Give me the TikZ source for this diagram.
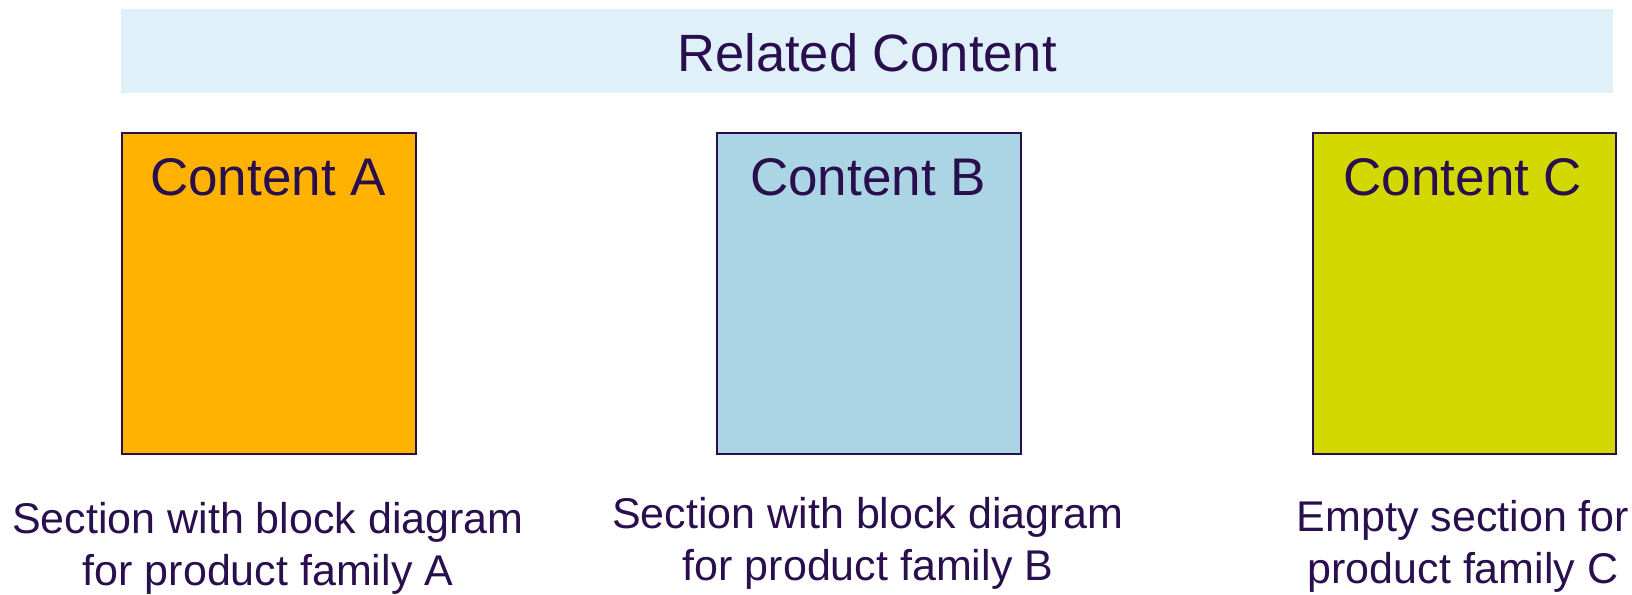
\documentclass[tikz,border=0pt]{standalone}
\usepackage{fontspec}
\setmainfont{Liberation Sans}
\definecolor{txt}{HTML}{2A0F4E}
\definecolor{banner}{HTML}{E0F0F8}
\definecolor{fa}{HTML}{FFB300}
\definecolor{fb}{HTML}{ABD5E5}
\definecolor{fc}{HTML}{D2D800}
\tikzset{
  contentbox/.style={draw=txt, line width=1.5pt, inner sep=0pt, anchor=north west},
  boxtitle/.style={text=txt, anchor=base, inner sep=0pt, font=\fontsize{53}{64}\selectfont},
  caption/.style={text=txt, align=center, anchor=base, inner sep=0pt, font=\fontsize{43}{52}\selectfont},
}
\begin{document}
\begin{tikzpicture}[x=1pt,y=-1pt]
\useasboundingbox (0,0) rectangle (1632,594);
\node[fill=banner, inner sep=0pt, minimum width=1492pt, minimum height=84pt, anchor=north west] (banner) at (121,9) {};
\node[text=txt, anchor=base, inner sep=0pt, font=\fontsize{52.5}{62}\selectfont] (title) at (867,71) {Related Content};
\node[contentbox, fill=fa, minimum width=294pt, minimum height=321pt] (boxA) at (121,132) {};
\node[contentbox, fill=fb, minimum width=304pt, minimum height=321pt] (boxB) at (716,132) {};
\node[contentbox, fill=fc, minimum width=303pt, minimum height=321pt] (boxC) at (1312,132) {};
\node[boxtitle] (tA) at (268,195) {Content A};
\node[boxtitle] (tB) at (868,195) {Content B};
\node[boxtitle] (tC) at (1463,195) {Content C};
\node[caption] (cA) at (268,585) {Section with block diagram\\for product family A};
\node[caption] (cB) at (868,580) {Section with block diagram\\for product family B};
\node[caption] (cC) at (1463,583) {Empty section for\\product family C};
\end{tikzpicture}
\end{document}
